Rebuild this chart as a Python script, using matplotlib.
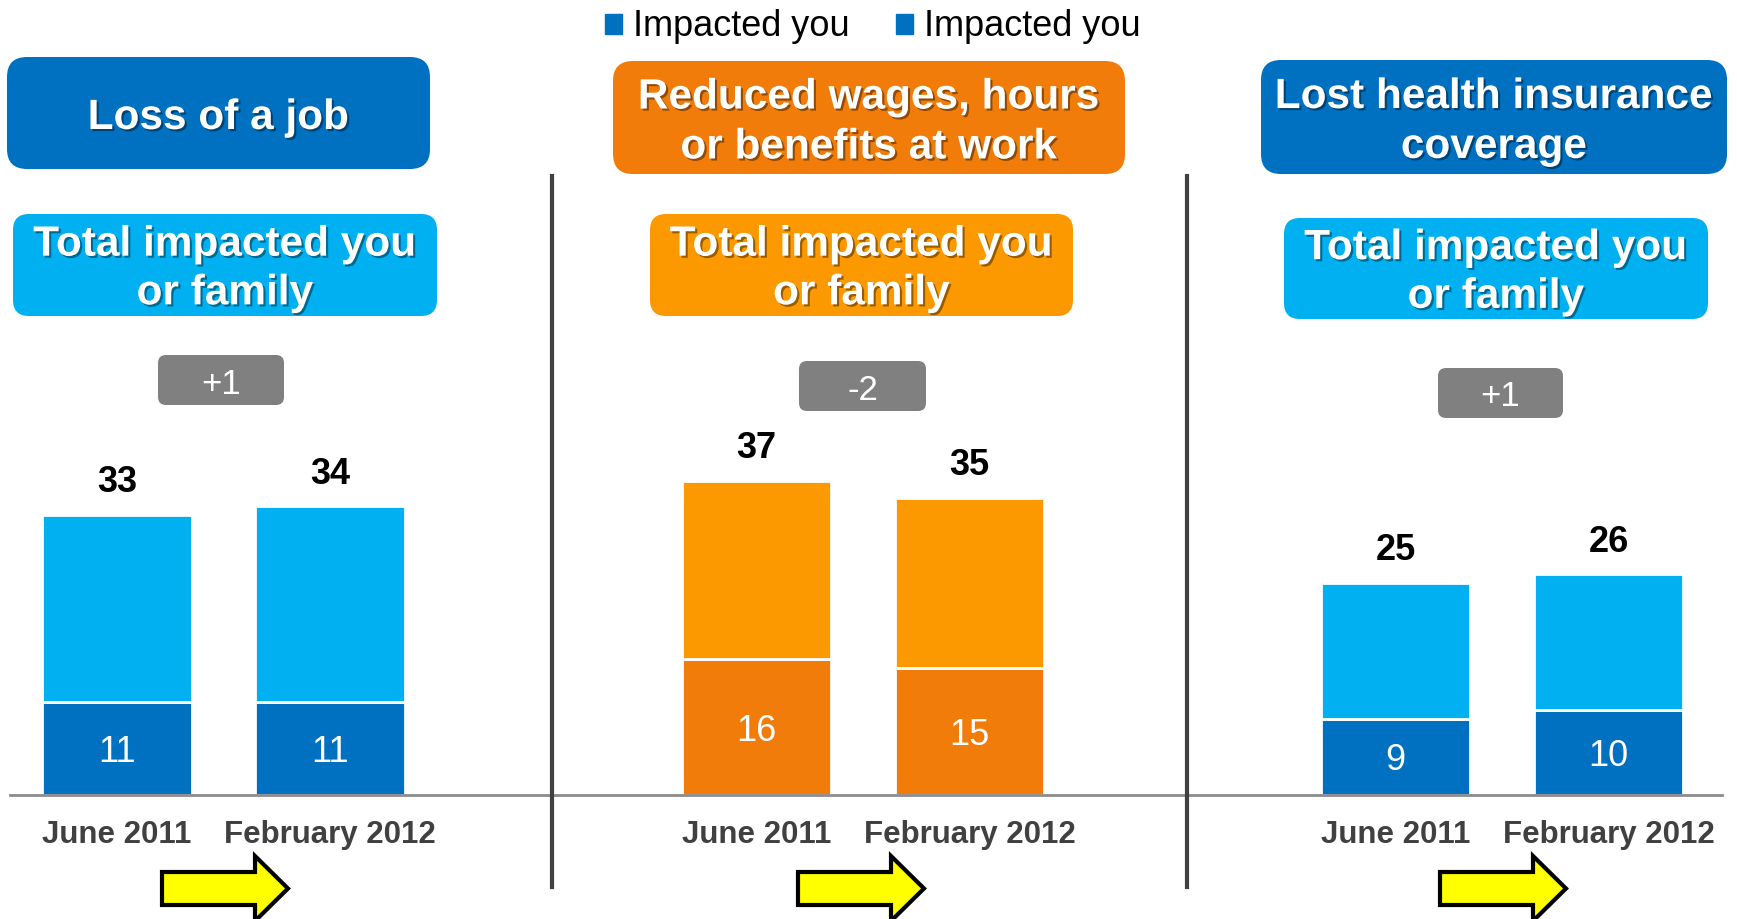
import numpy as np
import matplotlib.pyplot as plt
import matplotlib.patheffects as pe
from matplotlib.patches import FancyBboxPatch, FancyArrow, Patch

plt.rcParams['font.family'] = ['Liberation Sans', 'DejaVu Sans']

# data
periods = ["June 2011", "February 2012"]
legend_labels = ["Impacted you", "Impacted you"]
headers = ["Loss of a job", "Reduced wages, hours\nor benefits at work", "Lost health insurance\ncoverage"]
sub_title = "Total impacted you\nor family"
total_family = [[33, 34], [37, 35], [25, 26]]
impacted_you = [[11, 11], [16, 15], [9, 10]]

# colours per panel: (header, sub box, bar bottom, bar top)
blue = ("#0070C0", "#00B0F0", "#0070C0", "#00B0F0")
orange = ("#F27C0A", "#FD9900", "#F27C0A", "#FD9900")
panel_colors = [blue, orange, blue]

W, H = 1737, 919
fig = plt.figure(figsize=(W / 100, H / 100), dpi=100)

# layout in pixels
spans = [(10, 552), (552, 1187), (1187, 1722)]
first_bar = [117, 756.5, 1395.5]
step = 213
header_boxes = [(7, 57, 430, 169), (613, 61, 1125, 174), (1261, 60, 1727, 174)]
sub_boxes = [(13, 214, 437, 316), (650, 214, 1073, 316), (1284, 218, 1708, 319)]
badges = [(158, 355, 284, 405), (799, 361, 926, 411), (1438, 368, 1563, 418)]
arrows_x = [162, 798, 1440]
base_y, top_y = 795, 370

shadow = [pe.withSimplePatchShadow(offset=(1.5, -1.5), shadow_rgbFace="black", alpha=0.4)]

for k in range(3):
    L, R = spans[k]
    ax = fig.add_axes([L / W, 1 - base_y / H, (R - L) / W, (base_y - top_y) / H])
    c = panel_colors[k]
    you = np.array(impacted_you[k])
    tot = np.array(total_family[k])
    x = np.arange(2)
    ax.bar(x, you, width=0.704, color=c[2], edgecolor="white", linewidth=2)
    ax.bar(x, tot - you, bottom=you, width=0.704, color=c[3], edgecolor="white", linewidth=2)
    for i in range(2):
        ax.annotate(str(you[i]), (i, you[i] / 2), xytext=(0, -3), textcoords="offset points",
                    ha="center", va="center", color="white", fontsize=26)
        ax.annotate(str(tot[i]), (i, tot[i]), xytext=(0, 23), textcoords="offset points",
                    ha="center", va="center", fontsize=26, fontweight="bold", color="black")
    ax.set_xlim(-(first_bar[k] - L) / step, (R - first_bar[k]) / step)
    ax.set_ylim(0, 50)
    ax.set_xticks(x, periods)
    ax.tick_params(axis="x", length=0, pad=18, labelsize=22.5, labelcolor="#404040")
    for lab in ax.get_xticklabels():
        lab.set_fontweight("bold")
    ax.set_yticks([])
    for s in ["top", "left", "right"]:
        ax.spines[s].set_visible(False)
    ax.spines["bottom"].set_color("#8C8C8C")
    ax.spines["bottom"].set_linewidth(2)
    ax.patch.set_visible(False)

# overlay in pixel coordinates
ov = fig.add_axes([0, 0, 1, 1])
ov.set_xlim(0, W)
ov.set_ylim(H, 0)
ov.axis("off")

for k in range(3):
    c = panel_colors[k]
    x0, y0, x1, y1 = header_boxes[k]
    ov.add_patch(FancyBboxPatch((x0, y0), x1 - x0, y1 - y0, boxstyle="round,pad=0,rounding_size=20",
                                facecolor=c[0], edgecolor="none"))
    ov.text((x0 + x1) / 2, (y0 + y1) / 2 + 5, headers[k], ha="center", va="center", color="white",
            fontsize=30.5, fontweight="bold", linespacing=1.32, path_effects=shadow)
    x0, y0, x1, y1 = sub_boxes[k]
    ov.add_patch(FancyBboxPatch((x0, y0), x1 - x0, y1 - y0, boxstyle="round,pad=0,rounding_size=16",
                                facecolor=c[1], edgecolor="none"))
    ov.text((x0 + x1) / 2, (y0 + y1) / 2 + 4, sub_title, ha="center", va="center", color="white",
            fontsize=30.5, fontweight="bold", linespacing=1.28, path_effects=shadow)
    # change badge
    x0, y0, x1, y1 = badges[k]
    d = total_family[k][1] - total_family[k][0]
    ov.add_patch(FancyBboxPatch((x0, y0), x1 - x0, y1 - y0, boxstyle="round,pad=0,rounding_size=8",
                                facecolor="#808080", edgecolor="none"))
    ov.text((x0 + x1) / 2, (y0 + y1) / 2 + 4, f"{d:+d}", ha="center", va="center", color="white",
            fontsize=25)
    # arrow
    ov.add_patch(FancyArrow(arrows_x[k], 888.5, 126, 0, width=33, head_width=65, head_length=33,
                            length_includes_head=True, facecolor="#FFFF00", edgecolor="black",
                            linewidth=3, joinstyle="miter"))

for xd in [552, 1187]:
    ov.plot([xd, xd], [176, 887], color="#404040", lw=3)

fig.legend(handles=[Patch(color="#0070C0"), Patch(color="#0070C0")], labels=legend_labels,
           ncol=2, loc="center", bbox_to_anchor=(873 / W, 1 - 27 / H), frameon=False, fontsize=26,
           handlelength=0.47, handleheight=0.47, handletextpad=0.3, columnspacing=1.3,
           borderpad=0, borderaxespad=0)

plt.savefig("out.png", dpi=100)
plt.close()
